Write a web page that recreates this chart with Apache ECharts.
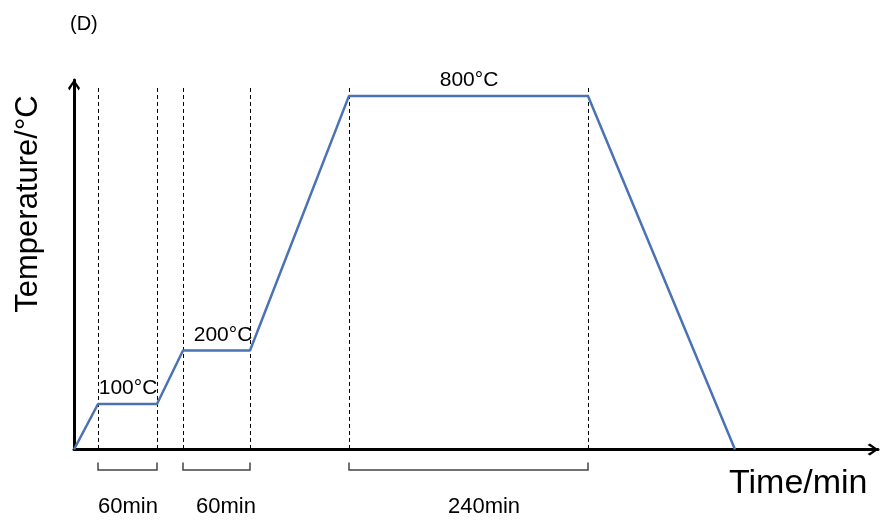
<!DOCTYPE html>
<html>
<head>
<meta charset="utf-8">
<script src="https://cdn.jsdelivr.net/npm/echarts@6/dist/echarts.min.js"></script>
<style>html,body{margin:0;padding:0;background:#fff}#c{width:880px;height:520px}</style>
</head>
<body>
<div id="c"></div>
<script>
// Schematic heating profile (x: schematic minutes, y: drawn height on a 0-836 scale)
const profileTime   = [0, 24, 83, 109, 176, 275, 514, 661];
const profileHeight = [0, 103, 103, 224, 224, 800, 800, 0];

// Dashed guide lines (x positions) and their top
const guideTimes = [24, 83, 109, 176, 275, 514];
const guideTop = 818;

// Plateau labels
const tempLabels  = ['100\u00B0C', '200\u00B0C', '800\u00B0C'];
const tempLabelX  = [54, 149, 395];
const tempLabelY  = [103, 224, 800];

// Duration brackets
const bracketStart   = [24, 109, 275];
const bracketEnd     = [83, 176, 514];
const durationLabels = ['60min', '60min', '240min'];
const durationLabelX = [54, 152, 410];

const axisMaxX = 804;
const axisMaxY = 836;

const FONT = '"Liberation Sans", Arial, sans-serif';
const chevron = 'path://M6,0 L12,8.6 L10.6,11 L6,3.4 L1.4,11 L0,8.6 Z';

const chart = echarts.init(document.getElementById('c'), null, {renderer: 'canvas'});

const lineData = profileTime.map((t, i) => [t, profileHeight[i]]);
const guideData = guideTimes.map(t => [{coord: [t, guideTop]}, {coord: [t, 0]}]);

chart.setOption({
  animation: false,
  backgroundColor: '#fff',
  grid: {left: 74, right: 2, top: 80, bottom: 70.5, containLabel: false},
  xAxis: {
    type: 'value', min: 0, max: axisMaxX,
    axisLine: {show: true, onZero: true, lineStyle: {color: '#000', width: 3},
      symbol: ['none', chevron], symbolSize: [12, 11], symbolOffset: [0, -5]},
    axisTick: {show: false}, axisLabel: {show: false}, splitLine: {show: false}
  },
  yAxis: {
    type: 'value', min: 0, max: axisMaxY,
    axisLine: {show: true, onZero: true, lineStyle: {color: '#000', width: 3},
      symbol: ['none', chevron], symbolSize: [12, 11], symbolOffset: [0, -5]},
    axisTick: {show: false}, axisLabel: {show: false}, splitLine: {show: false}
  },
  graphic: [
    {type: 'text', left: 70, top: 14, style: {text: '(D)', font: '20px ' + FONT, fill: '#000'}},
    {type: 'text', x: 28, y: 204, rotation: Math.PI / 2,
      style: {text: 'Temperature/\u00B0C', font: '31px ' + FONT, fill: '#000', textAlign: 'center', textVerticalAlign: 'middle'}},
    {type: 'text', x: 729, y: 484,
      style: {text: 'Time/min', font: '34px ' + FONT, fill: '#000', textAlign: 'left', textVerticalAlign: 'middle'}}
  ],
  series: [
    {
      type: 'line',
      data: lineData,
      showSymbol: false,
      symbol: 'none',
      lineStyle: {color: '#4A72B5', width: 2.5},
      z: 5,
      markLine: {
        silent: true,
        symbol: ['none', 'none'],
        label: {show: false},
        lineStyle: {color: '#000', width: 1, type: [4, 3]},
        data: guideData
      }
    },
    {
      type: 'scatter',
      symbolSize: 0,
      itemStyle: {opacity: 1},
      data: tempLabelX.map((x, i) => [x, tempLabelY[i]]),
      label: {
        show: true, position: 'top', distance: 5,
        formatter: p => tempLabels[p.dataIndex],
        color: '#000', fontSize: 21, fontFamily: FONT
      },
      z: 6
    },
    {
      type: 'custom',
      clip: false,
      data: bracketStart.map((s, i) => [s, bracketEnd[i], durationLabelX[i]]),
      encode: {x: [0, 1, 2]},
      renderItem: function (params, api) {
        const a = api.coord([api.value(0), 0]);
        const b = api.coord([api.value(1), 0]);
        const c = api.coord([api.value(2), 0]);
        const y0 = a[1];
        return {
          type: 'group',
          children: [
            {type: 'polyline', shape: {points: [[a[0], y0 + 13], [a[0], y0 + 20.5], [b[0], y0 + 20.5], [b[0], y0 + 13]]},
              style: {stroke: '#444', lineWidth: 1.5, fill: null}},
            {type: 'text', style: {text: durationLabels[params.dataIndex], x: c[0], y: y0 + 57.5,
              textAlign: 'center', textVerticalAlign: 'middle', font: '22px ' + FONT, fill: '#000'}}
          ]
        };
      }
    }
  ]
});
</script>
</body>
</html>
